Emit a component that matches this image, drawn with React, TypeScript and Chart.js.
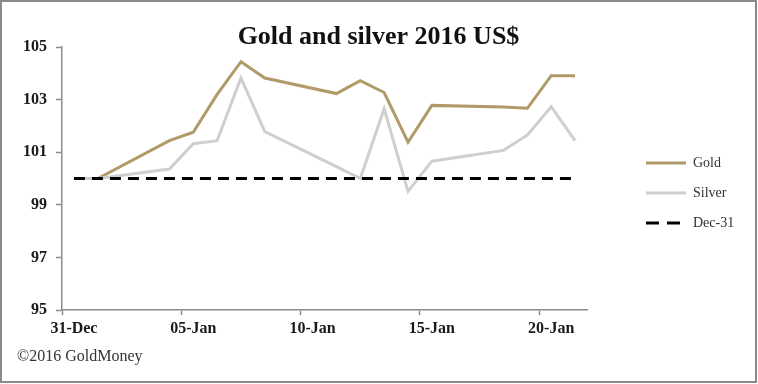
import React, { useEffect, useRef } from "react";
import { Chart, registerables } from "chart.js";

Chart.register(...registerables);

// Calendar days from 31-Dec to 21-Jan (one slot per day)
const categories = [
  "31-Dec", "01-Jan", "02-Jan", "03-Jan", "04-Jan", "05-Jan", "06-Jan", "07-Jan",
  "08-Jan", "09-Jan", "10-Jan", "11-Jan", "12-Jan", "13-Jan", "14-Jan", "15-Jan",
  "16-Jan", "17-Jan", "18-Jan", "19-Jan", "20-Jan", "21-Jan",
];
const shownTickLabels = ["31-Dec", "05-Jan", "10-Jan", "15-Jan", "20-Jan"];

const goldValues = [
  100, 100, null, null, 101.44, 101.76, 103.2, 104.44, 103.82, null, null,
  103.23, 103.72, 103.27, 101.38, 102.78, null, null, 102.72, 102.67, 103.91, 103.91,
];
const silverValues = [
  100, 100, null, null, 100.36, 101.32, 101.44, 103.82, 101.78, null, null,
  100.45, 100.0, 102.65, 99.51, 100.66, null, null, 101.07, 101.65, 102.73, 101.44,
];
const baseValues = [
  100, 100, 100, 100, 100, 100, 100, 100, 100, 100, 100,
  100, 100, 100, 100, 100, 100, 100, 100, 100, 100, 100,
];
const yTicks = [95, 97, 99, 101, 103, 105];

const SERIF = "'Liberation Serif', 'DejaVu Serif', serif";
const AXIS_GRAY = "#8c8c8c";
const GOLD = "#b09a68";
const SILVER = "#cfcfcf";
const DASH = [11, 7];

function legendSample(color: string, dash: number[]) {
  const c = document.createElement("canvas");
  c.width = 40;
  c.height = 4;
  const g = c.getContext("2d")!;
  g.strokeStyle = color;
  g.lineWidth = 3;
  g.setLineDash(dash);
  g.beginPath();
  g.moveTo(0, 2);
  g.lineTo(40, 2);
  g.stroke();
  return c;
}

const framePlugin = {
  id: "frame",
  beforeDraw(chart: any) {
    const { ctx, width, height } = chart;
    ctx.save();
    ctx.fillStyle = "#ffffff";
    ctx.fillRect(0, 0, width, height);
    ctx.restore();
  },
  afterDraw(chart: any) {
    const { ctx, width, height } = chart;
    ctx.save();
    ctx.strokeStyle = "#8a8a8a";
    ctx.lineWidth = 2;
    ctx.strokeRect(1, 1, width - 3, height - 3);
    ctx.restore();
  },
};

export default function App() {
  const canvasRef = useRef<HTMLCanvasElement | null>(null);

  useEffect(() => {
    if (!canvasRef.current) return;
    const chart = new Chart(canvasRef.current, {
      type: "line",
      data: {
        labels: categories,
        datasets: [
          {
            label: "Gold",
            data: goldValues,
            borderColor: GOLD,
            backgroundColor: GOLD,
            borderWidth: 3,
            pointRadius: 0,
            pointStyle: legendSample(GOLD, []),
            tension: 0,
            spanGaps: true,
            order: 3,
          },
          {
            label: "Silver",
            data: silverValues,
            borderColor: SILVER,
            backgroundColor: SILVER,
            borderWidth: 3,
            pointRadius: 0,
            pointStyle: legendSample(SILVER, []),
            tension: 0,
            spanGaps: true,
            order: 2,
          },
          {
            label: "Dec-31",
            data: baseValues,
            borderColor: "#000000",
            backgroundColor: "#000000",
            borderWidth: 3,
            borderDash: DASH,
            borderCapStyle: "butt",
            pointRadius: 0,
            pointStyle: legendSample("#000000", [13, 8]),
            tension: 0,
            order: 1,
          },
        ],
      },
      options: {
        responsive: false,
        animation: false,
        devicePixelRatio: 1,
        layout: { padding: { left: 17, right: 18, top: 0, bottom: 0 } },
        scales: {
          x: {
            type: "category",
            offset: true,
            grid: {
              display: true,
              offset: true,
              drawOnChartArea: false,
              drawTicks: true,
              tickLength: 5,
              tickWidth: 1.5,
              tickColor: (ctx: any) => (ctx.index % 5 === 0 ? AXIS_GRAY : "rgba(0,0,0,0)"),
              color: "rgba(0,0,0,0)",
            },
            border: { display: true, color: AXIS_GRAY, width: 1.5 },
            ticks: {
              autoSkip: false,
              maxRotation: 0,
              minRotation: 0,
              padding: 4,
              color: "#1a1a1a",
              font: { family: SERIF, size: 16, weight: "bold" },
              callback: (value: any, index: number) =>
                shownTickLabels.includes(categories[index]) ? categories[index] : "",
            },
          },
          y: {
            type: "linear",
            position: "left",
            min: 95,
            max: 105,
            afterBuildTicks: (scale: any) => {
              scale.ticks = yTicks.map((v) => ({ value: v }));
            },
            afterFit: (scale: any) => {
              scale.width = 45;
            },
            grid: {
              display: true,
              drawOnChartArea: false,
              drawTicks: true,
              tickLength: 6,
              tickWidth: 1.5,
              tickColor: AXIS_GRAY,
            },
            border: { display: true, color: AXIS_GRAY, width: 1.5 },
            ticks: {
              padding: 9,
              color: "#1a1a1a",
              font: { family: SERIF, size: 16, weight: "bold" },
            },
          },
          spacer: {
            type: "linear",
            position: "right",
            display: true,
            grid: { display: false, drawTicks: false },
            border: { display: false },
            ticks: { display: false },
            afterFit: (scale: any) => {
              scale.width = 43;
            },
          },
        },
        plugins: {
          title: {
            display: true,
            text: "Gold and silver 2016 US$",
            color: "#111111",
            font: { family: SERIF, size: 26, weight: "bold", lineHeight: 1.2 },
            padding: { top: 22, bottom: -6.2 },
          },
          subtitle: {
            display: true,
            position: "bottom",
            align: "start",
            text: "©2016 GoldMoney",
            color: "#333333",
            font: { family: SERIF, size: 16, weight: "normal", lineHeight: 1.2 },
            padding: { top: 5.2, bottom: 17.4 },
          },
          legend: {
            display: true,
            position: "right",
            align: "start",
            fullSize: false,
            maxWidth: 110,
            title: {
              display: true,
              text: "",
              font: { size: 1, lineHeight: 1 },
              padding: { top: 92, bottom: 0 },
            },
            labels: {
              usePointStyle: true,
              pointStyleWidth: 40,
              boxHeight: 14,
              padding: 16,
              color: "#333333",
              font: { family: SERIF, size: 14 },
              sort: (a: any, b: any) => a.datasetIndex - b.datasetIndex,
            },
          },
          tooltip: { enabled: false },
        },
      },
      plugins: [framePlugin],
    } as any);
    return () => chart.destroy();
  }, []);

  return (
    <div style={{ position: "absolute", left: 0, top: 0, width: 758, height: 384 }}>
      <canvas ref={canvasRef} width={758} height={384} style={{ width: 758, height: 384, display: "block" }} />
    </div>
  );
}
